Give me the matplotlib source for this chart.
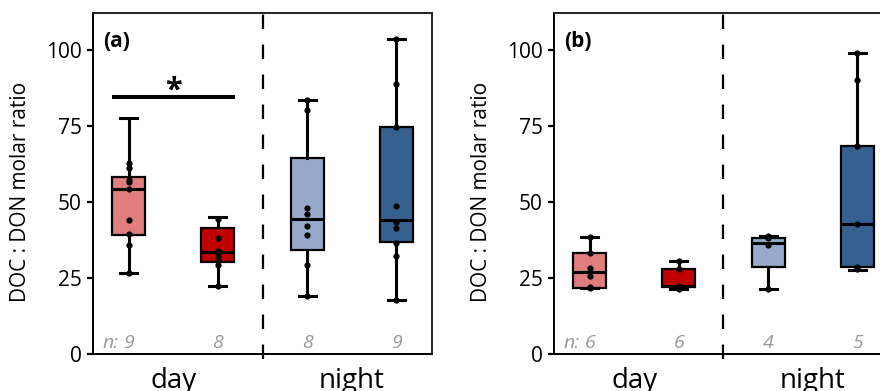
import matplotlib.pyplot as plt
import numpy as np

plt.rcParams['font.family'] = ['Open Sans', 'DejaVu Sans']

# Groups and colours (day ctrl, day treat, night ctrl, night treat)
groups = ['day', 'night']
positions = [1, 2, 3, 4]
colors = ['#E07E7E', '#C00000', '#97AACB', '#36608F']

# Panel (a) box statistics
a_whislo = [26.7, 22.3, 19.0, 17.7]
a_q1 = [39.1, 30.1, 34.3, 36.8]
a_med = [54.3, 33.4, 44.2, 44.0]
a_q3 = [58.1, 41.5, 64.3, 74.7]
a_whishi = [77.6, 45.1, 83.5, 103.3]
a_points = [[62.8, 61.2, 57.2, 56.4, 54.2, 44.0, 39.3, 35.8, 26.7],
            [44.5, 38.1, 33.8, 33.1, 32.0, 30.9, 29.2, 22.3],
            [83.5, 80.2, 47.8, 46.0, 42.1, 39.2, 29.2, 19.0],
            [103.3, 88.8, 74.4, 48.7, 43.4, 41.4, 36.4, 32.2, 17.7]]
a_n = [9, 8, 8, 9]

# Panel (b)
b_whislo = [21.8, 21.4, 21.4, 27.6]
b_q1 = [21.8, 22.1, 28.7, 28.5]
b_med = [26.8, 22.3, 36.4, 42.7]
b_q3 = [33.1, 27.8, 38.1, 68.4]
b_whishi = [38.4, 30.6, 38.9, 98.7]
b_points = [[38.4, 33.1, 28.4, 25.6, 22.0, 21.6],
            [30.6, 28.0, 22.5, 22.1, 21.7, 21.4],
            [38.9, 38.2, 35.8, 21.4],
            [98.7, 90.0, 68.3, 42.7, 28.5, 27.8]]
b_n = [6, 6, 4, 5]

yticks = [0, 25, 50, 75, 100]


def panel(ax, whislo, q1, med, q3, whishi, points, ns, tag):
    stats = []
    for i in range(4):
        stats.append(dict(whislo=whislo[i], q1=q1[i], med=med[i], q3=q3[i],
                          whishi=whishi[i], fliers=[]))
    bp = ax.bxp(stats, positions=positions, widths=0.37, patch_artist=True,
                showfliers=False, capwidths=0.19,
                boxprops=dict(linewidth=1.6, edgecolor='black'),
                medianprops=dict(color='black', linewidth=2.2),
                whiskerprops=dict(color='black', linewidth=2.2),
                capprops=dict(color='black', linewidth=2.2))
    for patch, c in zip(bp['boxes'], colors):
        patch.set_facecolor(c)
    for pos, pts in zip(positions, points):
        ax.plot(np.full(len(pts), pos), pts, 'o', color='black', ms=4.5,
                mec='none', zorder=5)

    ax.plot([2.5, 2.5], [-1.5, 112], color='black', lw=1.6,
            linestyle=(0, (6.5, 7)), clip_on=False, zorder=1)

    ax.set_xlim(0.6, 4.4)
    ax.set_ylim(0, 112)
    ax.set_yticks(yticks)
    ax.set_xticks([])
    ax.tick_params(axis='y', length=4, width=1.6, pad=4, labelsize=15)
    for s in ax.spines.values():
        s.set_linewidth(1.4)
        s.set_color('#222222')
    ax.spines['left'].set_color('black')
    ax.spines['bottom'].set_color('black')

    ax.set_ylabel('DOC : DON molar ratio', fontsize=15)
    ax.yaxis.set_label_coords(-0.183, 0.475)

    # group labels under the axis
    for x, g in zip([1.5, 3.5], groups):
        ax.text(x, -0.1, g, transform=ax.get_xaxis_transform(), ha='center',
                va='baseline', fontsize=20, clip_on=False)

    # sample sizes
    for pos, n in zip(positions, ns):
        ax.text(pos, 1.9, str(n), ha='center', va='baseline', fontsize=14,
                style='italic', color='#999999')
    ax.annotate('n:', xy=(positions[0], 1.9), xytext=(-7, 0),
                textcoords='offset points', ha='right', va='baseline',
                fontsize=14, style='italic', color='#999999')

    ax.text(0.03, 0.915, tag, transform=ax.transAxes, ha='left', va='center',
            fontsize=15, fontweight='bold')


fig = plt.figure(figsize=(8.8, 3.91), dpi=100)
ax1 = fig.add_axes([0.1057, 0.0946, 0.3852, 0.8722])
ax2 = fig.add_axes([0.6295, 0.0946, 0.3852, 0.8722])

panel(ax1, a_whislo, a_q1, a_med, a_q3, a_whishi, a_points, a_n, '(a)')
panel(ax2, b_whislo, b_q1, b_med, b_q3, b_whishi, b_points, b_n, '(b)')

# significance marker in panel (a)
ax1.plot([0.81, 2.19], [84.4, 84.4], color='black', lw=2.9, solid_capstyle='butt')
ax1.text(1.5, 86.5, '*', ha='center', va='center', fontsize=22, fontweight='bold')

fig.savefig('out.png', dpi=100)
